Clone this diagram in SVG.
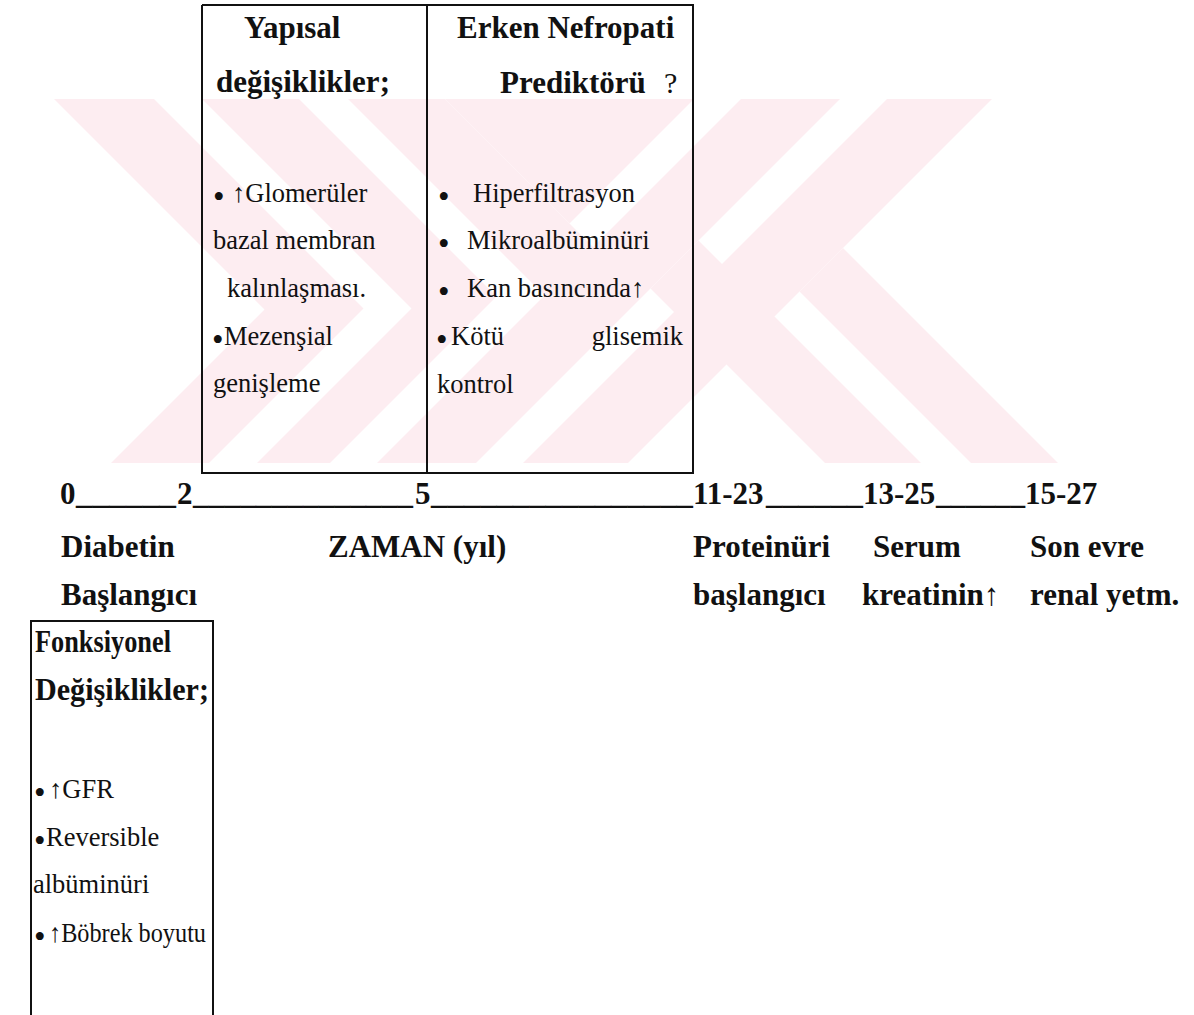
<svg xmlns="http://www.w3.org/2000/svg" width="1194" height="1015" viewBox="0 0 1194 1015">
<style>
.h{font-family:"Liberation Serif","Times New Roman",serif;font-weight:bold;font-size:31px;fill:#111}
.b{font-family:"Liberation Serif","Times New Roman",serif;font-size:26.5px;fill:#111}
.bl{font-family:"Liberation Serif","Times New Roman",serif;font-size:33px;fill:#111}
.ln{stroke:#111;stroke-width:2;fill:none}
.wm{fill:#fdedf1}
</style>
<rect width="1194" height="1015" fill="#fff"/>
<g id="watermark">
<polygon class="wm" points="54,99 154,99 363.5,308.5 209,463 111,463 264.5,309.5"/>
<polygon class="wm" points="202,99 299,99 496.5,296.5 330,463 257,463 411.5,308.5"/>
<polygon class="wm" points="348,99 445,99 642.5,296.5 476,463 377,463 544.5,295.5"/>
<polygon class="wm" points="445,99 694,99 569.5,223.5"/>
<polygon class="wm" points="741,99 840,99 642.5,296.5 544.5,295.5"/>
<polygon class="wm" points="698.5,240.5 921,463 825,463 650.5,288.5"/>
<polygon class="wm" points="887,99 992,99 628,463 523,463"/>
<polygon class="wm" points="843,248 1058,463 971,463 799.5,291.5"/>
</g>
<g id="yapisal">
<path class="ln" d="M202,5 V473 H427 M202,5 H427"/>
<text class="h" x="244" y="38">Yapısal</text>
<text class="h" x="216" y="92">değişiklikler;</text>
<text class="bl" x="213" y="208">•</text>
<text class="b" x="232" y="202">↑Glomerüler</text>
<text class="b" x="213" y="249">bazal membran</text>
<text class="b" x="227" y="297">kalınlaşması.</text>
<text class="bl" x="212" y="351">•</text>
<text class="b" x="224" y="345">Mezenşial</text>
<text class="b" x="213" y="392">genişleme</text>
</g>
<g id="erken">
<path class="ln" d="M427,5 H693 V473 H427 V5"/>
<text class="h" x="457" y="38">Erken Nefropati</text>
<text class="h" x="500" y="93">Prediktörü</text>
<text class="b" x="664" y="93" style="font-size:30px">?</text>
<text class="bl" x="438" y="208">•</text>
<text class="b" x="473" y="202">Hiperfiltrasyon</text>
<text class="bl" x="438" y="255">•</text>
<text class="b" x="467" y="249">Mikroalbüminüri</text>
<text class="bl" x="438" y="303">•</text>
<text class="b" x="467" y="297">Kan basıncında↑</text>
<text class="bl" x="436" y="351">•</text>
<text class="b" x="451" y="345">Kötü</text>
<text class="b" x="683" y="345" text-anchor="end">glisemik</text>
<text class="b" x="437" y="393">kontrol</text>
</g>
<g id="timeline">
<text class="h" x="60" y="504">0</text>
<text class="h" x="76" y="504" textLength="100" lengthAdjust="spacingAndGlyphs">______</text>
<text class="h" x="177" y="504">2</text>
<text class="h" x="193" y="504" textLength="220" lengthAdjust="spacingAndGlyphs">______________</text>
<text class="h" x="415" y="504">5</text>
<text class="h" x="431" y="504" textLength="262" lengthAdjust="spacingAndGlyphs">________________</text>
<text class="h" x="693" y="504">11-23</text>
<text class="h" x="766" y="504" textLength="97" lengthAdjust="spacingAndGlyphs">______</text>
<text class="h" x="863" y="504">13-25</text>
<text class="h" x="936" y="504" textLength="89" lengthAdjust="spacingAndGlyphs">______</text>
<text class="h" x="1025" y="504">15-27</text>
</g>
<g id="labels">
<text class="h" x="61" y="557">Diabetin</text>
<text class="h" x="61" y="605">Başlangıcı</text>
<text class="h" x="328" y="557">ZAMAN (yıl)</text>
<text class="h" x="693" y="557">Proteinüri</text>
<text class="h" x="693" y="605">başlangıcı</text>
<text class="h" x="873" y="557">Serum</text>
<text class="h" x="862" y="605">kreatinin↑</text>
<text class="h" x="1030" y="557">Son evre</text>
<text class="h" x="1030" y="605">renal yetm.</text>
</g>
<g id="fonksiyonel">
<path class="ln" d="M31,1015 V621 H213 V1015"/>
<text class="h" x="35" y="652" textLength="136" lengthAdjust="spacingAndGlyphs">Fonksiyonel</text>
<text class="h" x="35" y="700" textLength="174" lengthAdjust="spacingAndGlyphs">Değişiklikler;</text>
<text class="bl" x="34" y="804">•</text>
<text class="b" x="49" y="798">↑GFR</text>
<text class="bl" x="34" y="852">•</text>
<text class="b" x="46" y="846">Reversible</text>
<text class="b" x="33" y="893">albüminüri</text>
<text class="bl" x="34" y="948">•</text>
<text class="b" x="49" y="942" textLength="157" lengthAdjust="spacingAndGlyphs">↑Böbrek boyutu</text>
</g>
<g id="connectors"/>
</svg>
